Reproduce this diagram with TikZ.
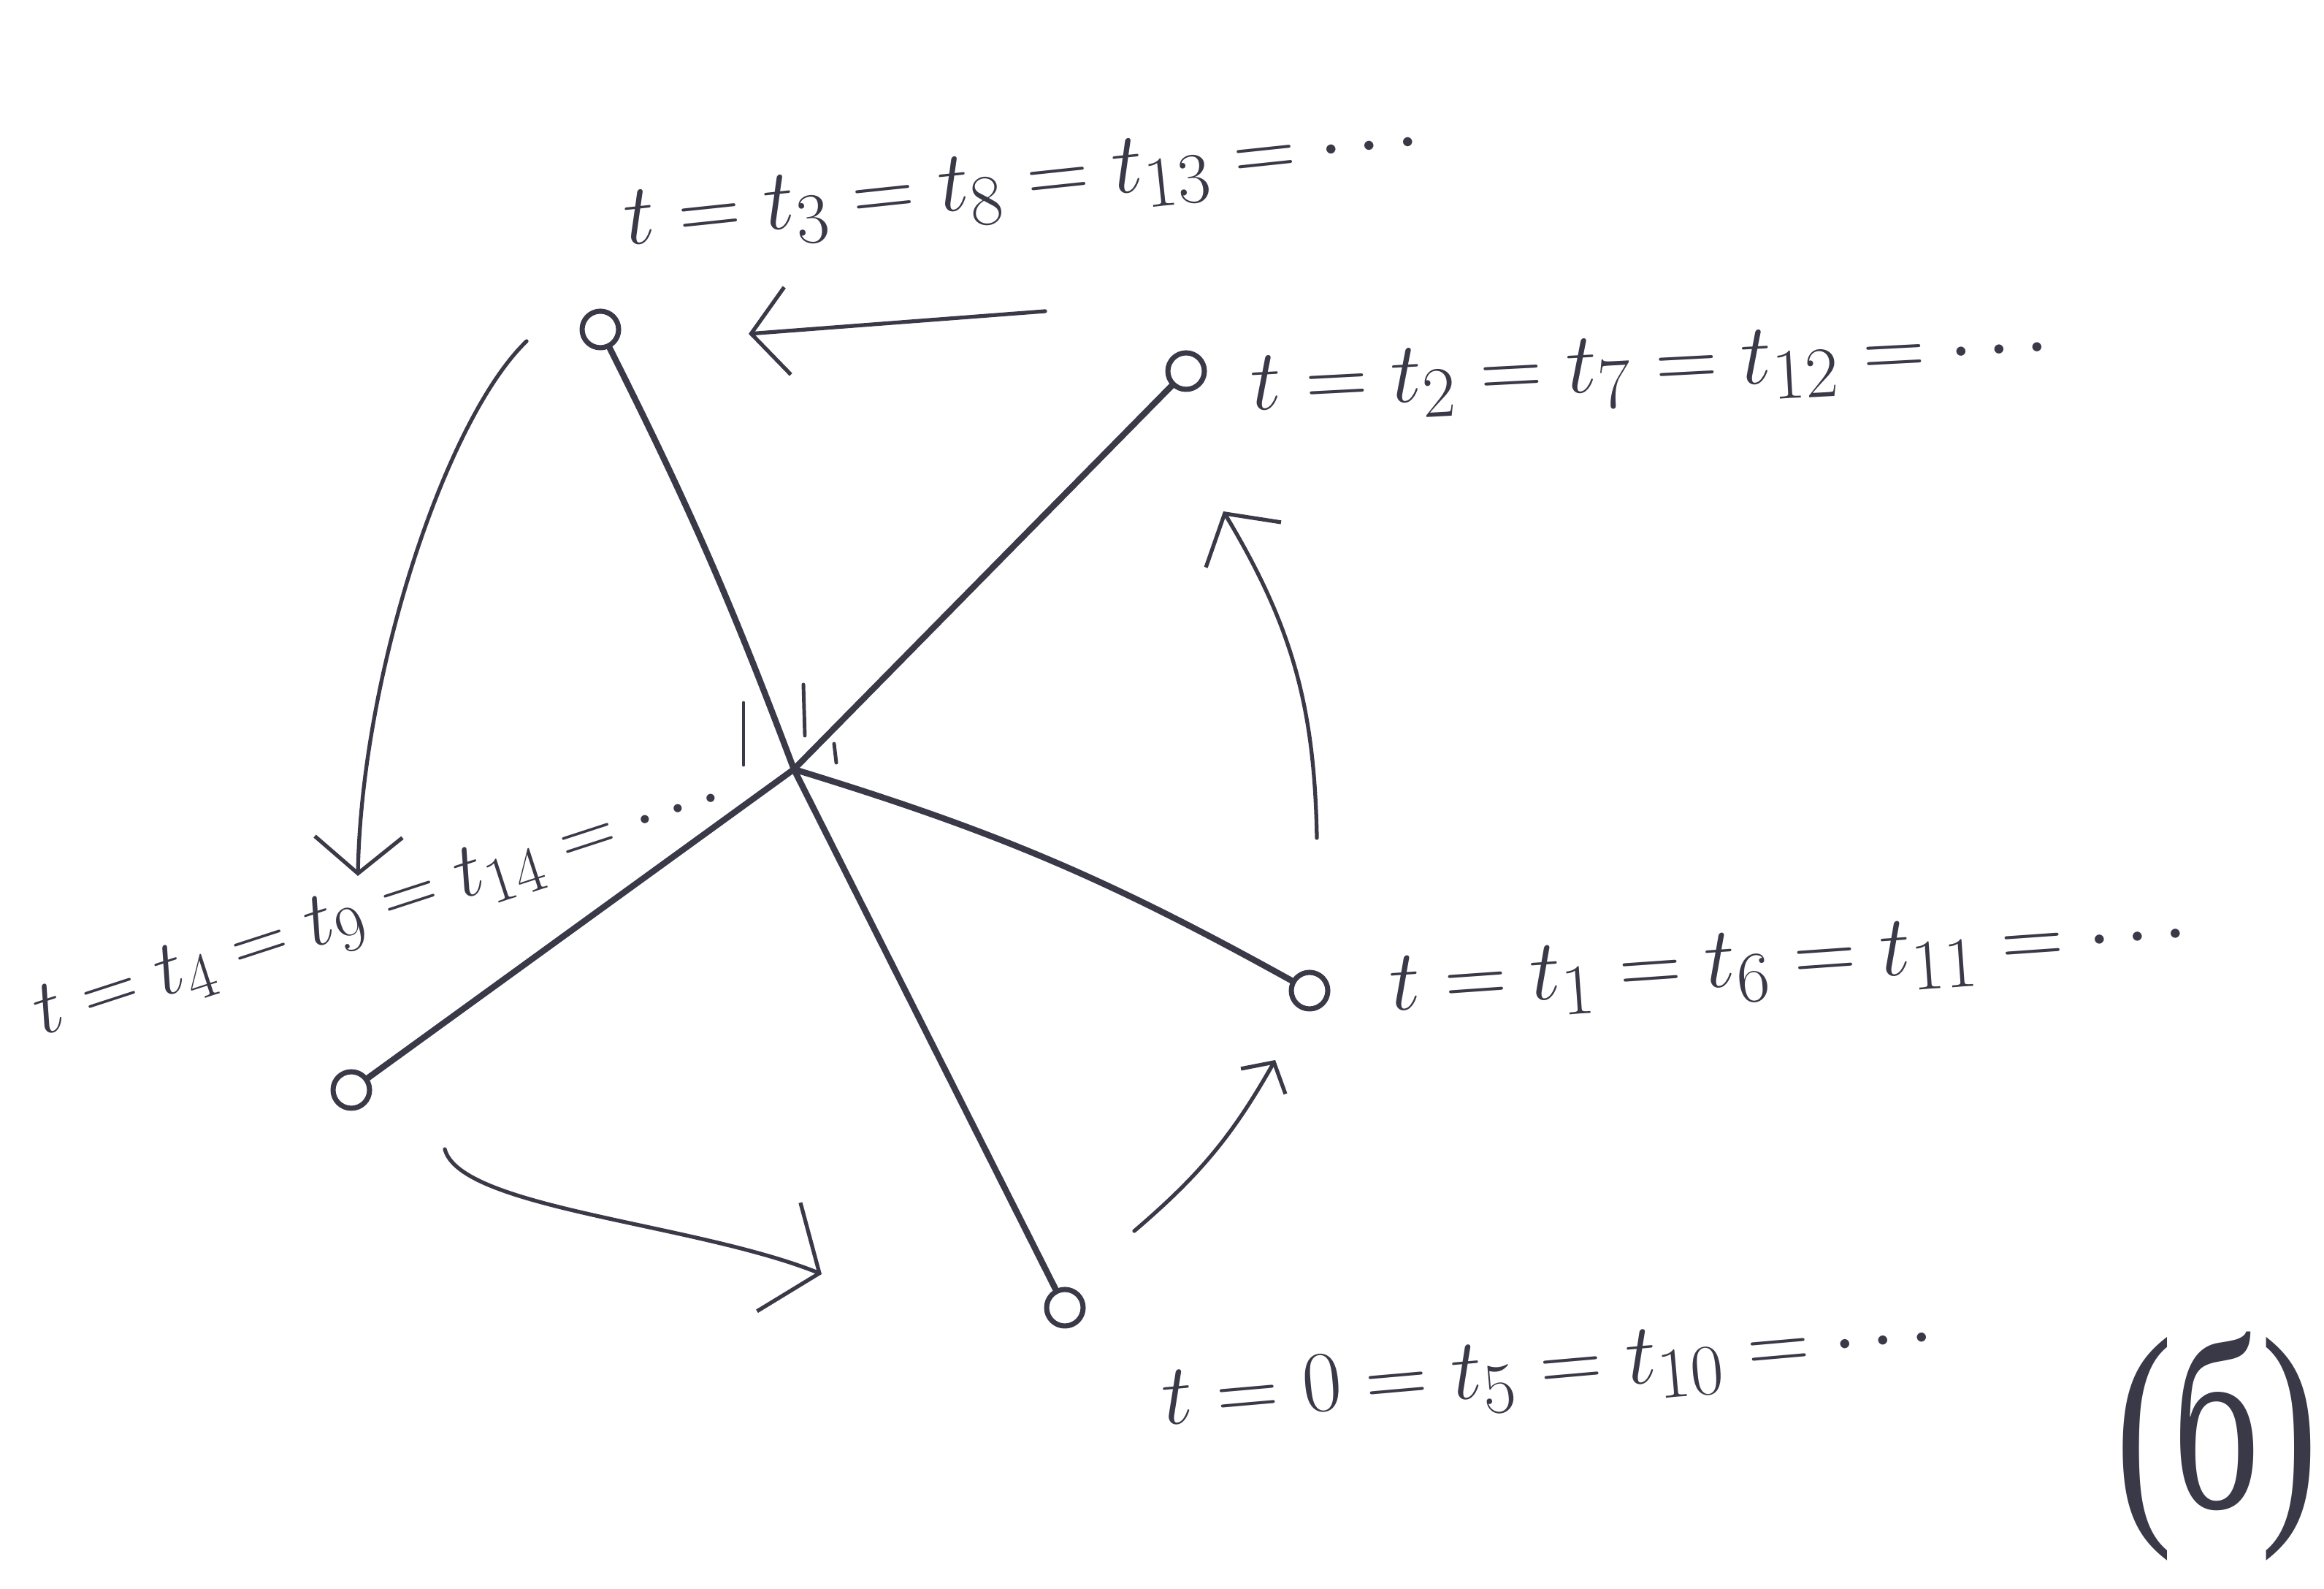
\documentclass[tikz,border=0pt]{standalone}
\usepackage{fontspec}
\newfontfamily\cyrfont{Liberation Serif}
\usetikzlibrary{arrows.meta}
\definecolor{ink}{HTML}{3A3948}

\begin{document}
\begin{tikzpicture}[>={Straight Barb[length=5mm,width=12mm]}, line cap=round, line join=round, color=ink]
% Stili: giunti, aste, frecce di rotazione, etichette
\tikzset{joint/.style={circle,draw,line width=2pt,fill=white,inner sep=0pt,minimum size=5mm},
  rod/.style={line width=2.4pt},
  turn/.style={->,line width=1.5pt},
  tlabel/.style={font=\Huge,scale=1.35,inner sep=0pt}}

\useasboundingbox (0,0) rectangle (31.82,21.74);

% Centro della stella e giunti alle estremita'
\coordinate (c) at (10.87,11.21);
\node[joint] (p0) at (14.58,3.84) {};
\node[joint] (p1) at (17.93,8.18) {};
\node[joint] (p2) at (16.24,16.66) {};
\node[joint] (p3) at (8.22,17.23) {};
\node[joint] (p4) at (4.81,6.82) {};

% --- ASTE ---
\draw[rod] (c) -- (p0);
\draw[rod] (c) to[bend left=6] (p1);
\draw[rod] (c) -- (p2);
\draw[rod] (c) to[bend right=3] (p3);
\draw[rod] (c) -- (p4);

% Segni degli angoli uguali vicino al centro
\draw[line width=1.4pt] (10.18,12.12) -- (10.18,11.27);
\draw[line width=1.4pt] (11.00,12.37) -- (11.02,11.67);
\draw[line width=1.4pt] (11.42,11.56) -- (11.45,11.30);

% --- ETICHETTE DEGLI ISTANTI ---
\node[tlabel,rotate=5] (l0) at (21.20,2.96) {$t=0=t_5=t_{10}=\cdots$};
\node[tlabel,rotate=4] (l1) at (24.50,8.54) {$t=t_1=t_6=t_{11}=\cdots$};
\node[tlabel,rotate=3] (l2) at (22.60,16.66) {$t=t_2=t_7=t_{12}=\cdots$};
\node[tlabel,rotate=6] (l3) at (14.00,19.20) {$t=t_3=t_8=t_{13}=\cdots$};
\node[tlabel,rotate=18,scale=0.9] (l4) at (5.20,9.30) {$t=t_4=t_9=t_{14}=\cdots$};

% Sigla della figura
\node[font=\cyrfont\fontsize{96}{96}\selectfont,xscale=0.7,inner sep=0pt] (fig) at (30.35,1.94) {(б)};

% --- FRECCE DI ROTAZIONE (senso orario) ---
\coordinate (a0s) at (6.09,6.01);  \coordinate (a0e) at (11.25,4.30);
\coordinate (a1s) at (15.53,4.89); \coordinate (a1e) at (17.46,7.23);
\coordinate (a2s) at (18.03,10.27); \coordinate (a2e) at (16.75,14.74);
\coordinate (a3s) at (14.31,17.48); \coordinate (a3e) at (10.25,17.17);
\coordinate (a4s) at (7.21,17.07); \coordinate (a4e) at (4.90,9.75);

\draw[turn] (a3s) -- (a3e);
\draw[turn] (a4s) .. controls (6.1,16.0) and (4.95,12.5) .. (a4e);
\draw[turn, >={Straight Barb[length=6mm,width=16mm]}] (a0s) .. controls (6.3,5.2) and (9.5,5.0) .. (a0e);
\draw[turn, >={Straight Barb[length=3mm,width=7mm]}] (a1s) to[bend right=10] (a1e);
\draw[turn] (a2s) to[bend right=15] (a2e);
\end{tikzpicture}
\end{document}
